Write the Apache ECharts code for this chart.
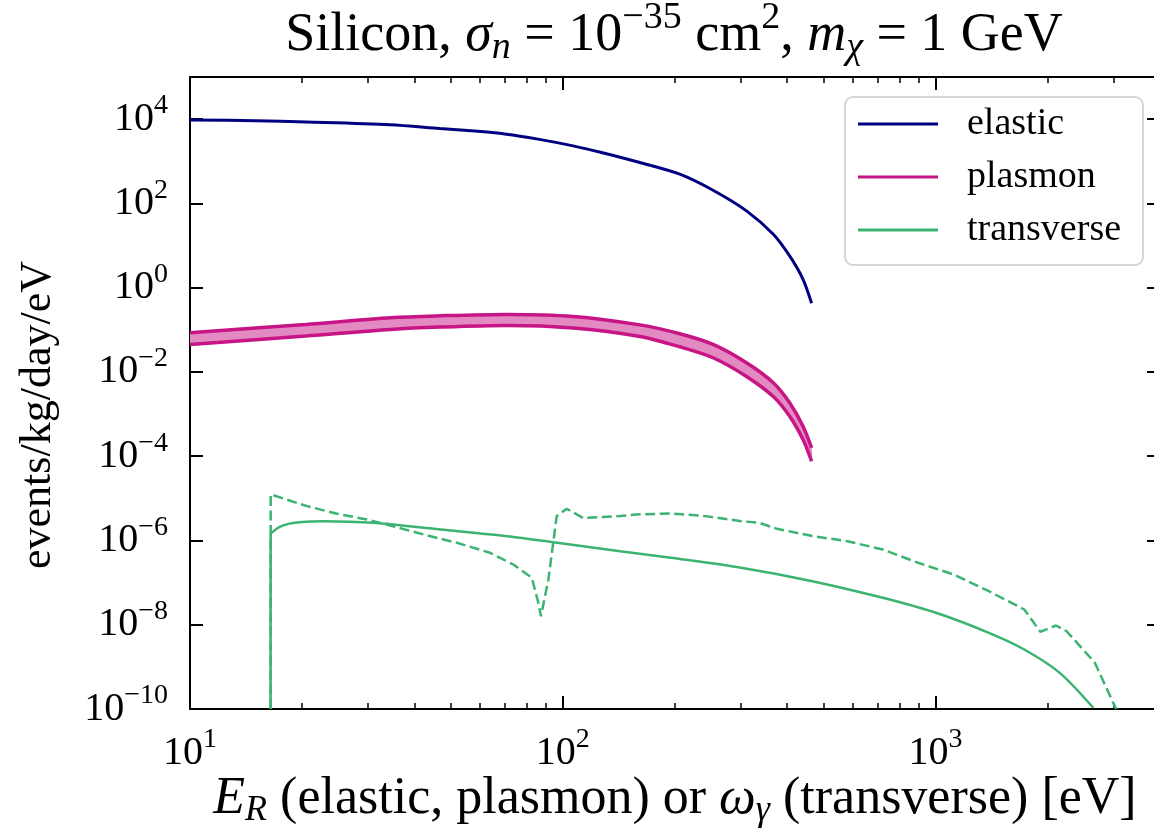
<!DOCTYPE html>
<html><head><meta charset="utf-8">
<script src="https://cdn.jsdelivr.net/npm/echarts@6/dist/echarts.min.js"></script>
<style>html,body{margin:0;padding:0;background:#fff}#c{width:1154px;height:829px}</style>
</head><body><div id="c"></div>
<script>
// ---- data ----
const elasticE    = [10, 15, 20.5, 34.4, 46.8, 58, 70.6, 85.8, 106.6, 127, 161, 206, 253, 311, 367, 406, 441, 465];
const elasticRate = [9.6e3, 9.2e3, 8.6e3, 7.4e3, 6.0e3, 5.2e3, 4.4e3, 3.35e3, 2.32e3, 1.62e3, 935, 494, 205, 66.4, 18.5, 5.66, 1.58, 0.426];

const plasmonE     = [10, 20.4, 34.5, 46.8, 70.6, 106.6, 161, 206, 253, 311, 367, 406, 441, 465];
const plasmonUpper = [0.0853, 0.134, 0.194, 0.215, 0.232, 0.208, 0.131, 0.0807, 0.045, 0.0165, 5.53e-3, 1.85e-3, 5.14e-4, 1.58e-4];
const plasmonLower = [0.045, 0.0708, 0.102, 0.116, 0.127, 0.111, 0.0697, 0.0396, 0.0217, 7.82e-3, 2.61e-3, 8.89e-4, 2.48e-4, 7.59e-5];

const transE    = [16.45, 16.46, 16.73, 17.4, 18.5, 19.7, 22.8, 31.0, 46.9, 70.8, 94.4, 142.6, 195, 301, 467, 722, 1002, 1390, 1730, 2153, 2650];
const transRate = [1e-10, 1.39e-6, 1.64e-6, 2.11e-6, 2.51e-6, 2.72e-6, 2.87e-6, 2.63e-6, 1.82e-6, 1.26e-6, 9.1e-7, 5.57e-7, 3.88e-7, 2.25e-7, 1.08e-7, 4.35e-8, 1.92e-8, 6.43e-9, 2.58e-9, 7.2e-10, 1.06e-10];

const transDashE    = [16.45, 16.46, 20.6, 24.8, 29.8, 34.4, 42.3, 52, 63.8, 73.7, 82.6, 86, 87.4, 91.5, 96.3, 102.5, 113.6, 128, 142.6, 156.6, 195, 242, 301, 336, 375, 467, 580, 722, 898, 1117, 1390, 1730, 1910, 2105, 2248, 2675, 3050];
const transDashRate = [1e-10, 1.24e-5, 6.53e-6, 4.31e-6, 3.15e-6, 2.27e-6, 1.39e-6, 8.8e-7, 5.1e-7, 2.69e-7, 1.30e-7, 3.31e-8, 1.59e-8, 1.19e-7, 3.77e-6, 5.65e-6, 3.4e-6, 3.6e-6, 3.8e-6, 4.15e-6, 4.38e-6, 3.78e-6, 2.87e-6, 2.63e-6, 1.90e-6, 1.27e-6, 9.6e-7, 6.1e-7, 2.95e-7, 1.56e-7, 6.25e-8, 2.3e-8, 6.8e-9, 9.6e-9, 7.0e-9, 1.25e-9, 1e-10];

const xMajorTicks = [10, 100, 1000];
const xMinorTicks = [20, 30, 40, 50, 60, 70, 80, 90, 200, 300, 400, 500, 600, 700, 800, 900, 2000, 3000, 4000];
const yMajorTicks = [1e-10, 1e-8, 1e-6, 1e-4, 1e-2, 1, 1e2, 1e4];
const xRange = [10, 4000];
const yRange = [1e-10, 1e5];

const legendNames = ['elastic', 'plasmon', 'transverse'];
const titleText = '{r|Silicon, }{i|σ}{sub|n}{r| = 10}{sup|−35}{r| cm}{sup|2}{r|, }{i|m}{sub|χ}{r| = 1 GeV}';
const xName = '{i|E}{sub|R}{r| (elastic, plasmon) or }{i|ω}{sub|γ}{r| (transverse) [eV]}';
const yName = 'events/kg/day/eV';

// ---- helpers ----
const F = 'Liberation Serif';
const zip = (a, b) => a.map((v, i) => [v, b[i]]);
function richText(fs) {
  const pb = Math.round(0.15 * fs);
  const base = {fontFamily: F, fontSize: fs, fontWeight: 'normal', lineHeight: fs, color: '#000', verticalAlign: 'bottom', padding: [0, 0, pb, 0]};
  const small = Math.round(0.7 * fs);
  return {
    r: base,
    i: Object.assign({}, base, {fontStyle: 'italic'}),
    sup: {fontFamily: F, fontSize: small, fontWeight: 'normal', lineHeight: small, color: '#000', verticalAlign: 'bottom', padding: [0, 0, Math.round(pb + 0.48 * fs), 0]},
    sub: {fontFamily: F, fontSize: small, fontWeight: 'normal', lineHeight: small, color: '#000', fontStyle: 'italic', verticalAlign: 'bottom', padding: [0, 0, Math.max(0, Math.round(pb - 0.07 * fs)), 0]}
  };
}
// symmetric box of height H with the "10" centred in it
function tickRich(fs) {
  const H = Math.round(1.6 * fs);
  const small = Math.round(0.7 * fs);
  return {
    b: {fontFamily: F, fontSize: fs, lineHeight: H, color: '#000', verticalAlign: 'bottom', padding: [0, 0, Math.round((H - fs) / 2), 0]},
    s: {fontFamily: F, fontSize: small, lineHeight: small, color: '#000', verticalAlign: 'bottom', padding: [0, 0, Math.round(H / 2 - 0.02 * fs), 0]}
  };
}
const expLabel = v => {
  const e = Math.round(Math.log10(v));
  return '{b|10}{s|' + (e < 0 ? '−' + (-e) : e) + '}';
};

const G = {left: 190, top: 77, width: 970, height: 632, outerBoundsMode: 'none', containLabel: false};
const black = {color: '#000', width: 2};

const chart = echarts.init(document.getElementById('c'), null, {renderer: 'canvas'});
chart.setOption({
  animation: false,
  backgroundColor: '#fff',
  title: {
    text: titleText, left: 674, top: 17, textAlign: 'center', padding: 0,
    textStyle: {fontWeight: 'normal', rich: richText(54)}
  },
  legend: {
    data: legendNames, orient: 'vertical', left: 845, top: 97,
    icon: 'rect', itemWidth: 80, itemHeight: 3, itemGap: 15,
    padding: [8, 22, 16, 13],
    backgroundColor: '#fff', borderColor: '#d6d6d6', borderWidth: 2, borderRadius: 8,
    textStyle: {fontFamily: F, fontSize: 38, lineHeight: 38, color: '#000', padding: [0, 0, 0, 24]}
  },
  grid: [Object.assign({}, G), Object.assign({}, G)],
  xAxis: [
    {gridIndex: 0, type: 'log', position: 'bottom', min: xRange[0], max: xRange[1],
     name: xName, nameLocation: 'middle', nameGap: 72, nameMoveOverlap: false, nameTextStyle: {rich: richText(52)},
     axisLine: {show: true, lineStyle: black},
     axisTick: {show: true, inside: true, length: 13, customValues: xMajorTicks, lineStyle: black},
     axisLabel: {show: true, margin: 12, customValues: xMajorTicks, formatter: expLabel, rich: tickRich(40)},
     splitLine: {show: false}, minorTick: {show: false}},
    {gridIndex: 0, type: 'log', position: 'top', min: xRange[0], max: xRange[1],
     axisLine: {show: true, lineStyle: black},
     axisTick: {show: true, inside: true, length: 13, customValues: xMajorTicks, lineStyle: black},
     axisLabel: {show: false}, splitLine: {show: false}},
    {gridIndex: 1, type: 'log', position: 'bottom', min: xRange[0], max: xRange[1],
     axisLine: {show: false},
     axisTick: {show: true, inside: true, length: 6, customValues: xMinorTicks, lineStyle: {color: '#000', width: 1.5}},
     axisLabel: {show: false}, splitLine: {show: false}},
    {gridIndex: 1, type: 'log', position: 'top', min: xRange[0], max: xRange[1],
     axisLine: {show: false},
     axisTick: {show: true, inside: true, length: 6, customValues: xMinorTicks, lineStyle: {color: '#000', width: 1.5}},
     axisLabel: {show: false}, splitLine: {show: false}}
  ],
  yAxis: [
    {gridIndex: 0, type: 'log', position: 'left', min: yRange[0], max: yRange[1],
     name: yName, nameLocation: 'middle', nameGap: 130, nameMoveOverlap: false,
     nameTextStyle: {fontFamily: F, fontSize: 44, lineHeight: 44, color: '#000', padding: [0, 44, 0, 0]},
     axisLine: {show: true, lineStyle: black},
     axisTick: {show: true, inside: true, length: 13, customValues: yMajorTicks, lineStyle: black},
     axisLabel: {show: true, margin: 22, customValues: yMajorTicks, formatter: expLabel, rich: tickRich(40)},
     splitLine: {show: false}},
    {gridIndex: 0, type: 'log', position: 'right', min: yRange[0], max: yRange[1],
     axisLine: {show: true, lineStyle: black},
     axisTick: {show: true, inside: true, length: 13, customValues: yMajorTicks, lineStyle: black},
     axisLabel: {show: false}, splitLine: {show: false}},
    {gridIndex: 1, type: 'log', min: yRange[0], max: yRange[1], show: false, splitLine: {show: false}}
  ],
  series: [
    {type: 'custom', name: 'plasmon band', xAxisIndex: 0, yAxisIndex: 0, silent: true, clip: true, z: 1,
     data: [[plasmonE[0], plasmonUpper[0]]],
     renderItem: function (params, api) {
       const pts = [];
       for (let i = 0; i < plasmonE.length; i++) pts.push(api.coord([plasmonE[i], plasmonUpper[i]]));
       for (let i = plasmonE.length - 1; i >= 0; i--) pts.push(api.coord([plasmonE[i], plasmonLower[i]]));
       return {type: 'polygon', shape: {points: pts, smooth: 0.25}, style: {fill: '#e38ac2'}};
     }},
    {type: 'line', name: 'elastic', data: zip(elasticE, elasticRate), showSymbol: false, symbol: 'none', smooth: 0.3,
     lineStyle: {color: '#000080', width: 3}, itemStyle: {color: '#000080'}, z: 3},
    {type: 'line', name: 'plasmon', data: zip(plasmonE, plasmonUpper), showSymbol: false, symbol: 'none', smooth: 0.3,
     lineStyle: {color: '#c71585', width: 3.5}, itemStyle: {color: '#c71585'}, z: 3},
    {type: 'line', name: 'plasmon lower', data: zip(plasmonE, plasmonLower), showSymbol: false, symbol: 'none', smooth: 0.3,
     lineStyle: {color: '#c71585', width: 3.5}, itemStyle: {color: '#c71585'}, z: 3},
    {type: 'line', name: 'transverse', data: zip(transE, transRate), showSymbol: false, symbol: 'none', smooth: 0.3,
     lineStyle: {color: '#3cb371', width: 2.5}, itemStyle: {color: '#3cb371'}, z: 3},
    {type: 'line', name: 'transverse dashed', data: zip(transDashE, transDashRate), showSymbol: false, symbol: 'none', smooth: false,
     lineStyle: {color: '#3cb371', width: 2.5, type: [10, 4.5]}, itemStyle: {color: '#3cb371'}, z: 3}
  ]
});
</script></body></html>
